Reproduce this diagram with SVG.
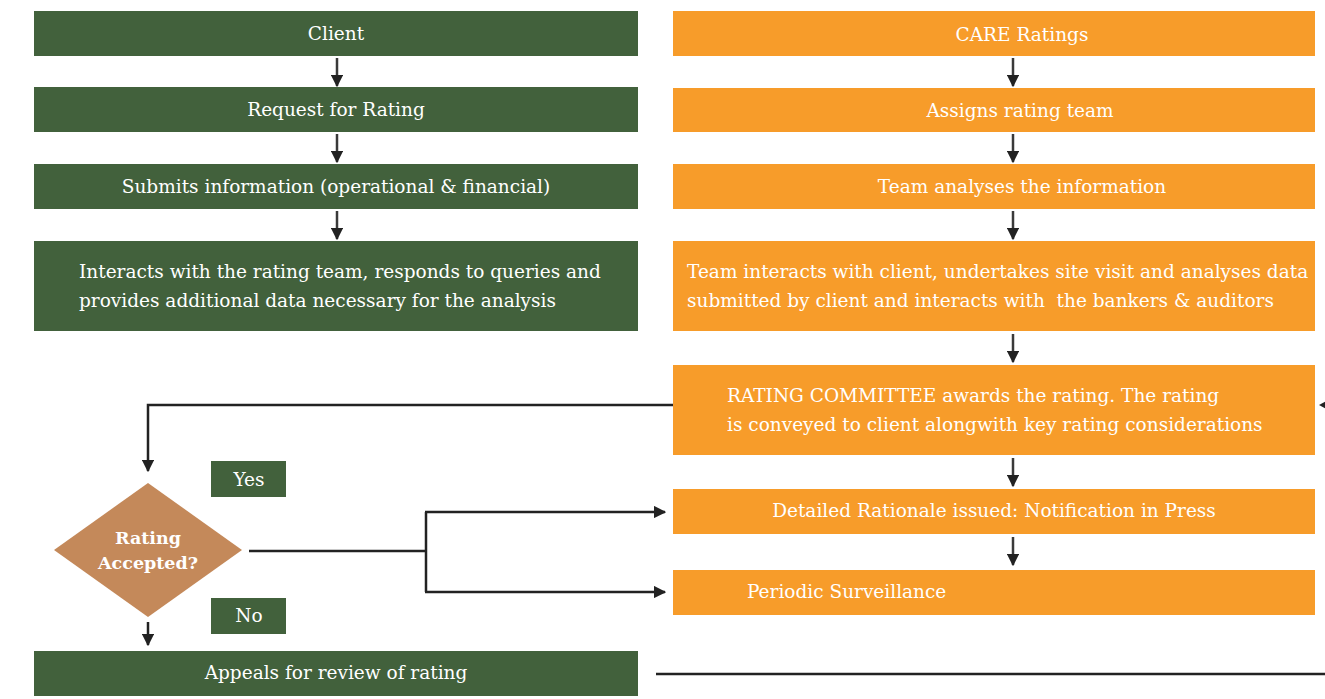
<svg xmlns="http://www.w3.org/2000/svg" width="1325" height="699" viewBox="0 0 1325 699">
<defs>
<style>
.g{fill:#42613c}
.o{fill:#f79c2a}
.t{font-family:"DejaVu Serif","Liberation Serif",serif;font-size:18.5px;fill:#ffffff}
.c{text-anchor:middle}
.b{font-weight:bold;font-size:17.5px}
.ln{stroke:#222;stroke-width:2.5;fill:none}
.da{stroke:#3a3a3a;stroke-width:2.5;fill:none}
</style>
<marker id="ah" viewBox="0 0 10 10" refX="9" refY="5" markerWidth="5" markerHeight="5" orient="auto-start-reverse" markerUnits="strokeWidth">
<path d="M0,0 L10,5 L0,10 z" fill="#222"/>
</marker>
</defs>
<rect width="1325" height="699" fill="#fff"/>
<g id="connectors">
<line class="da" x1="337" y1="58" x2="337" y2="86" marker-end="url(#ah)"/>
<line class="da" x1="337" y1="134" x2="337" y2="162" marker-end="url(#ah)"/>
<line class="da" x1="337" y1="211" x2="337" y2="239" marker-end="url(#ah)"/>
<line class="da" x1="1013" y1="58" x2="1013" y2="86" marker-end="url(#ah)"/>
<line class="da" x1="1013" y1="134" x2="1013" y2="162" marker-end="url(#ah)"/>
<line class="da" x1="1013" y1="211" x2="1013" y2="239" marker-end="url(#ah)"/>
<line class="da" x1="1013" y1="334" x2="1013" y2="362" marker-end="url(#ah)"/>
<line class="da" x1="1013" y1="458" x2="1013" y2="486" marker-end="url(#ah)"/>
<line class="da" x1="1013" y1="537" x2="1013" y2="565" marker-end="url(#ah)"/>
<polyline class="ln" points="673,405 148,405 148,471" marker-end="url(#ah)"/>
<line class="ln" x1="148" y1="622" x2="148" y2="645" marker-end="url(#ah)"/>
<polyline class="ln" points="249,551 426,551"/>
<polyline class="ln" points="426,512 426,592"/>
<line class="ln" x1="425" y1="512" x2="665" y2="512" marker-end="url(#ah)"/>
<line class="ln" x1="425" y1="592" x2="665" y2="592" marker-end="url(#ah)"/>
<line class="ln" x1="656" y1="674" x2="1325" y2="674"/>
<path d="M1319,405 L1328,400 L1328,410 z" fill="#222"/>
</g>
<g id="client"><rect class="g" x="34" y="11" width="604" height="45"/><text class="t c" x="336" y="40">Client</text></g>
<g id="request"><rect class="g" x="34" y="87" width="604" height="45"/><text class="t c" x="336" y="116">Request for Rating</text></g>
<g id="submits"><rect class="g" x="34" y="164" width="604" height="45"/><text class="t c" x="336" y="193">Submits information (operational &amp; financial)</text></g>
<g id="interacts"><rect class="g" x="34" y="241" width="604" height="90"/><text class="t" x="79" y="278">Interacts with the rating team, responds to queries and</text><text class="t" x="79" y="307">provides additional data necessary for the analysis</text></g>
<g id="appeals"><rect class="g" x="34" y="651" width="604" height="45"/><text class="t c" x="336" y="679">Appeals for review of rating</text></g>
<g id="care"><rect class="o" x="673" y="11" width="642" height="45"/><text class="t c" x="1022" y="41">CARE Ratings</text></g>
<g id="assigns"><rect class="o" x="673" y="88" width="642" height="44"/><text class="t c" x="1020" y="117">Assigns rating team</text></g>
<g id="analyses"><rect class="o" x="673" y="164" width="642" height="45"/><text class="t c" x="1022" y="193">Team analyses the information</text></g>
<g id="teaminteracts"><rect class="o" x="673" y="241" width="642" height="90"/><text class="t" x="687" y="278">Team interacts with client, undertakes site visit and analyses data</text><text class="t" x="687" y="307" xml:space="preserve">submitted by client and interacts with  the bankers &amp; auditors</text></g>
<g id="committee"><rect class="o" x="673" y="365" width="642" height="90"/><text class="t" x="727" y="402">RATING COMMITTEE awards the rating. The rating</text><text class="t" x="727" y="431">is conveyed to client alongwith key rating considerations</text></g>
<g id="rationale"><rect class="o" x="673" y="489" width="642" height="45"/><text class="t c" x="994" y="517">Detailed Rationale issued: Notification in Press</text></g>
<g id="surveillance"><rect class="o" x="673" y="570" width="642" height="45"/><text class="t" x="747" y="598">Periodic Surveillance</text></g>
<g id="decision"><polygon points="148,483 242,550 148,617 54,550" fill="#c4895a"/><text class="t c b" x="148" y="544">Rating</text><text class="t c b" x="148" y="569">Accepted?</text></g>
<g id="yes"><rect class="g" x="211" y="461" width="75" height="36"/><text class="t c" x="249" y="486">Yes</text></g>
<g id="no"><rect class="g" x="211" y="598" width="75" height="36"/><text class="t c" x="249" y="622">No</text></g>
</svg>
